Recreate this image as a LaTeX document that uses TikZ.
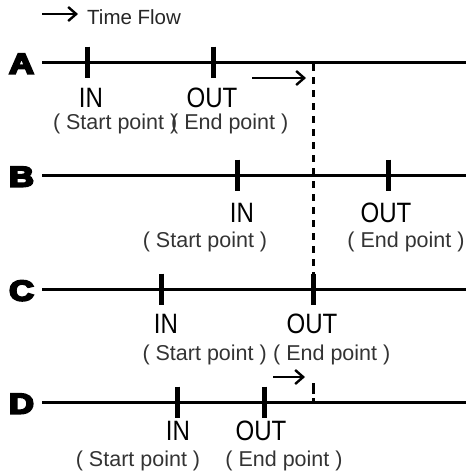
\documentclass[tikz,border=0pt]{standalone}
\usepackage{fontspec}
\setmainfont{Liberation Sans}
\newfontfamily\heavyfont[FakeBold=7]{Liberation Sans Bold}
\usetikzlibrary{arrows.meta}
\begin{document}
\begin{tikzpicture}[x=1pt,y=-1pt,
  tl/.style={line width=3pt},
  tk/.style={line width=5pt},
  dsh/.style={line width=3pt, dash pattern=on 7pt off 6pt},
  flow/.style={line width=2.4pt,-{Straight Barb[length=8pt,width=14pt,line width=2.4pt]}},
  letter/.style={inner sep=0pt, anchor=base, font=\heavyfont\fontsize{28.5}{28.5}\selectfont, xscale=1.2},
  io/.style={inner sep=0pt, anchor=base, font=\fontsize{28}{28}\selectfont, xscale=0.86},
  par/.style={inner sep=0pt, anchor=base, font=\fontsize{21.5}{21.5}\selectfont, text=black!80},
  tf/.style={inner sep=0pt, anchor=base west, font=\fontsize{20.5}{20.5}\selectfont, text=black!85}
]
\useasboundingbox (0,0) rectangle (467,472);
% time flow legend
\coordinate (tfs) at (42,14);
\coordinate (tfe) at (78,14);
\draw[flow] (tfs) -- (tfe);
\node[tf] (tft) at (87,24) {Time Flow};
% lines
\foreach \n/\y in {A/62,B/175,C/289,D/402}{
  \coordinate (\n s) at (42,\y);
  \coordinate (\n e) at (466,\y);
  \draw[tl] (\n s) -- (\n e);
  \node[letter] (L\n) at (21.5,\y+11.5) {\n};
}
% ticks
\foreach \n/\y/\x in {A/62/87,A/62/213,B/175/237,B/175/388,C/289/161,C/289/313,D/402/177,D/402/264}{
  \coordinate (t\n\x a) at (\x,\y-15.5);
  \coordinate (t\n\x b) at (\x,\y+15.5);
  \draw[tk] (t\n\x a) -- (t\n\x b);
}
% dashed reference line
\coordinate (da) at (313,64);
\coordinate (db) at (313,274);
\draw[dsh] (da) -- (db);
\coordinate (dda) at (313,383);
\coordinate (ddb) at (313,402);
\draw[line width=3pt, dash pattern=on 11pt off 4pt] (dda) -- (ddb);
% arrows
\coordinate (aas) at (252,78);
\coordinate (aae) at (306,78);
\draw[flow] (aas) -- (aae);
\coordinate (das) at (273,377);
\coordinate (dae) at (305,377);
\draw[flow] (das) -- (dae);
% A labels
\node[io] (Ain) at (91,107) {IN};
\node[io] (Aout) at (212,107) {OUT};
\node[par, anchor=base east] (Asp) at (177.5,129.5) {( Start point )};
\node[par, anchor=base west] (Aep) at (171,129.5) {( End point )};
% B labels
\node[io] (Bin) at (242,222) {IN};
\node[io] (Bout) at (386,222) {OUT};
\node[par] (Bsp) at (205,247) {( Start point )};
\node[par] (Bep) at (406,247) {( End point )};
% C labels
\node[io] (Cin) at (166,333) {IN};
\node[io] (Cout) at (312,333) {OUT};
\node[par, anchor=base east] (Csp) at (267,360) {( Start point )};
\node[par, anchor=base west] (Cep) at (273,360) {( End point )};
% D labels
\node[io] (Din) at (178,440) {IN};
\node[io] (Dout) at (261,440) {OUT};
\node[par] (Dsp) at (138,466) {( Start point )};
\node[par] (Dep) at (284,466) {( End point )};
\end{tikzpicture}
\end{document}
